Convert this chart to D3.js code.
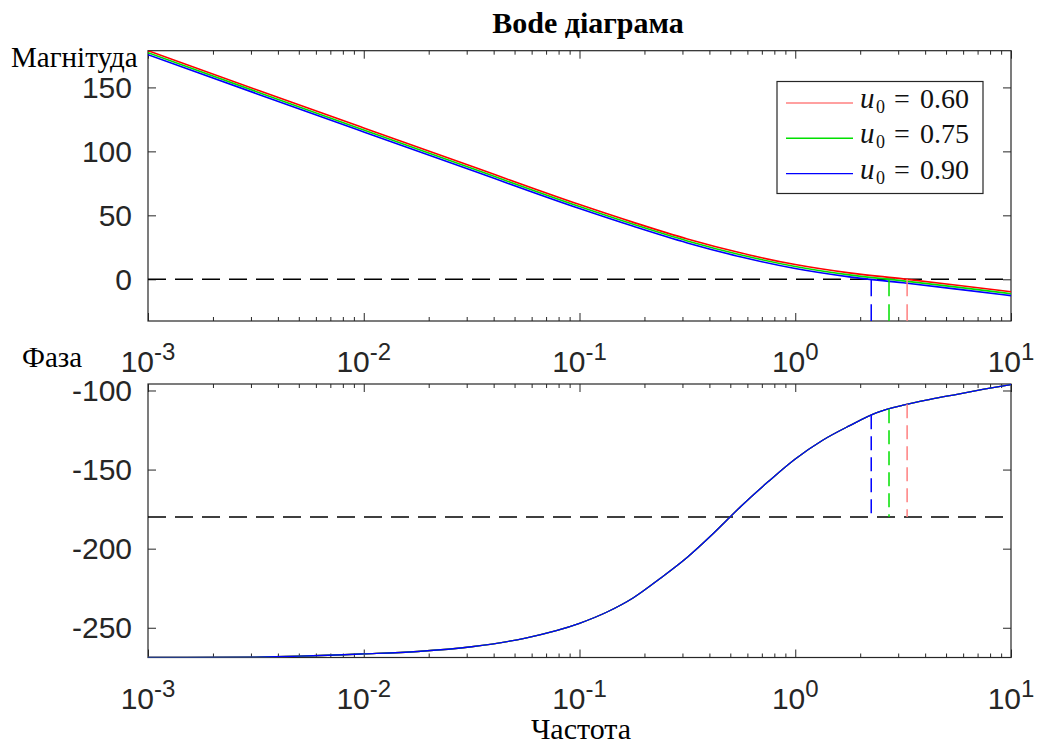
<!DOCTYPE html>
<html><head><meta charset="utf-8">
<script src="https://cdn.jsdelivr.net/npm/d3@7/dist/d3.min.js"></script>
<style>body{margin:0;background:#fff}svg{display:block}</style>
</head><body>
<svg id="c" width="1043" height="746"></svg>
<script>
// ---- data ----
const magFreqs = [0.001, 0.003162, 0.01, 0.03162, 0.1, 0.1778, 0.3162, 0.5623, 1, 1.778, 3.162, 5.623, 10];
const magRed   = [178.7, 148.4, 118.3, 88.3, 58.4, 44.5, 31.5, 20.5, 11.5, 5.0, 0.35, -4.6, -9.7];
const magGreen = [177.1, 146.9, 116.8, 86.8, 56.9, 43.0, 30.0, 19.0, 10.0, 3.45, -1.2, -6.15, -11.25];
const magBlue  = [175.6, 145.3, 115.2, 85.2, 55.3, 41.4, 28.4, 17.4, 8.4, 1.9, -2.75, -7.7, -12.8];
const phaseFreqs = [0.001, 0.003162, 0.01, 0.01778, 0.03162, 0.05623, 0.1, 0.1334, 0.1778, 0.2371, 0.3162, 0.4217, 0.5623, 0.7499, 1, 1.334, 1.778, 2.371, 3.162, 4.217, 5.623, 7.499, 10];
const phaseVals  = [-268.8, -268.5, -266.5, -265.0, -262.0, -256.5, -247.2, -240.2, -231.0, -218.7, -205.4, -189.8, -173.0, -157.6, -143.3, -131.6, -122.4, -114.2, -109.3, -105.6, -102.4, -99.2, -96.3];
const seriesLabels = ["0.60", "0.75", "0.90"];
const crossFreqs = [3.30, 2.72, 2.25];
const magTicks = [0, 50, 100, 150];
const phaseTicks = [-100, -150, -200, -250];
const decadeExps = [-3, -2, -1, 0, 1];
const colors = ["#ff0000", "#00e000", "#0000ff"];
const softColors = ["#ff8080", "#00e000", "#0000ff"];

const svg = d3.select("#c");
const L = 148, R = 1011;
const x = d3.scaleLog().domain([0.001, 10]).range([L, R]);
const top1 = 50.7, bot1 = 321, top2 = 384, bot2 = 657.5;
const yM = d3.scaleLinear().domain([-32.6, 178.7]).range([bot1, top1]);
const yP = d3.scaleLinear().domain([-268.8, -95.9]).range([bot2, top2]);
const axisCol = "#262626";
const sans = "'Liberation Sans', Arial, sans-serif";
const serif = "'Liberation Serif', 'Times New Roman', serif";

// minor ticks
const minor = [];
for (let e = -3; e < 1; e++) for (let m = 2; m <= 9; m++) minor.push(m * Math.pow(10, e));

function panel(y, top, bot, yticks, clipId) {
  const g = svg.append("g");
  g.append("clipPath").attr("id", clipId).append("rect")
    .attr("x", L).attr("y", top).attr("width", R - L).attr("height", bot - top);
  const majors = decadeExps.map(e => Math.pow(10, e));
  const xt = d3.axisBottom(x).tickValues(majors).tickSize(-8).tickFormat("");
  const xm = d3.axisBottom(x).tickValues(minor).tickSize(-4).tickFormat("");
  const xtT = d3.axisTop(x).tickValues(majors).tickSize(-8).tickFormat("");
  const xmT = d3.axisTop(x).tickValues(minor).tickSize(-4).tickFormat("");
  [[xt, bot], [xm, bot], [xtT, top], [xmT, top]].forEach(([a, yy]) => {
    const ag = g.append("g").attr("transform", `translate(0,${yy})`).call(a);
    ag.select(".domain").remove();
    ag.selectAll("line").attr("stroke", axisCol);
  });
  const yl = d3.axisLeft(y).tickValues(yticks).tickSize(-8).tickFormat("");
  const yr = d3.axisRight(y).tickValues(yticks).tickSize(-8).tickFormat("");
  [[yl, L], [yr, R]].forEach(([a, xx]) => {
    const ag = g.append("g").attr("transform", `translate(${xx},0)`).call(a);
    ag.select(".domain").remove();
    ag.selectAll("line").attr("stroke", axisCol);
  });
  g.append("rect").attr("x", L).attr("y", top).attr("width", R - L).attr("height", bot - top)
    .attr("fill", "none").attr("stroke", axisCol).attr("stroke-width", 1.2);
  g.selectAll(".yl").data(yticks).enter().append("text")
    .attr("x", 132).attr("y", d => y(d) + 10.5).attr("text-anchor", "end")
    .attr("font-family", sans).attr("font-size", 30).attr("fill", axisCol).text(d => d);
  decadeExps.forEach(e => {
    const t = g.append("text").attr("x", x(Math.pow(10, e))).attr("y", bot + 51)
      .attr("text-anchor", "middle").attr("font-family", sans).attr("fill", axisCol);
    t.append("tspan").attr("font-size", 30).text("10");
    t.append("tspan").attr("font-size", 24).attr("dy", -12).text(e);
  });
  return g;
}

const g1 = panel(yM, top1, bot1, magTicks, "clip1");
const g2 = panel(yP, top2, bot2, phaseTicks, "clip2");

const dash = "17,8";
g1.append("line").attr("x1", L).attr("x2", R).attr("y1", yM(0)).attr("y2", yM(0))
  .attr("stroke", "#000").attr("stroke-width", 1.5).attr("stroke-dasharray", "18,9");
g2.append("line").attr("x1", L).attr("x2", R).attr("y1", yP(-180)).attr("y2", yP(-180))
  .attr("stroke", "#000").attr("stroke-width", 1.5).attr("stroke-dasharray", "18,9");

const mags = [magRed, magGreen, magBlue];
const lineM = d3.line().x(d => x(d[0])).y(d => yM(d[1])).curve(d3.curveMonotoneX);
mags.forEach((m, i) => {
  g1.append("path").attr("d", lineM(magFreqs.map((f, j) => [f, m[j]])))
    .attr("fill", "none").attr("stroke", colors[i]).attr("stroke-width", 1.6)
    .attr("clip-path", "url(#clip1)");
});
const lineP = d3.line().x(d => x(d[0])).y(d => yP(d[1])).curve(d3.curveMonotoneX);
colors.forEach(c => {
  g2.append("path").attr("d", lineP(phaseFreqs.map((f, j) => [f, phaseVals[j]])))
    .attr("fill", "none").attr("stroke", c).attr("stroke-width", 1.3)
    .attr("clip-path", "url(#clip2)");
});
function phaseAt(f) {
  const lf = Math.log10(f);
  for (let j = 0; j < phaseFreqs.length - 1; j++) {
    const a = Math.log10(phaseFreqs[j]), b = Math.log10(phaseFreqs[j + 1]);
    if (lf >= a && lf <= b) return phaseVals[j] + (phaseVals[j + 1] - phaseVals[j]) * (lf - a) / (b - a);
  }
  return phaseVals[phaseVals.length - 1];
}
crossFreqs.forEach((f, i) => {
  g1.append("line").attr("x1", x(f)).attr("x2", x(f)).attr("y1", yM(0)).attr("y2", bot1)
    .attr("stroke", softColors[i]).attr("stroke-width", 1.5).attr("stroke-dasharray", dash);
  g2.append("line").attr("x1", x(f)).attr("x2", x(f)).attr("y1", yP(phaseAt(f))).attr("y2", yP(-180))
    .attr("stroke", softColors[i]).attr("stroke-width", 1.5).attr("stroke-dasharray", "14,7");
});

// legend
const lg = svg.append("g");
lg.append("rect").attr("x", 777).attr("y", 81.5).attr("width", 206).attr("height", 112)
  .attr("fill", "#fff").attr("stroke", axisCol).attr("stroke-width", 1.2);
seriesLabels.forEach((lab, i) => {
  const yy = 103 + i * 35.3;
  lg.append("line").attr("x1", 786).attr("x2", 853).attr("y1", yy).attr("y2", yy)
    .attr("stroke", softColors[i]).attr("stroke-width", 1.4);
  const base = yy + 5;
  lg.append("text").attr("x", 860).attr("y", base).attr("font-family", serif).attr("font-style", "italic")
    .attr("font-size", 29).attr("fill", "#111").text("u");
  lg.append("text").attr("x", 876).attr("y", base + 5).attr("font-family", serif)
    .attr("font-size", 18).attr("fill", "#111").text("0");
  lg.append("text").attr("x", 894).attr("y", base).attr("font-family", serif)
    .attr("font-size", 28).attr("fill", "#111").text("=");
  lg.append("text").attr("x", 920).attr("y", base).attr("font-family", serif)
    .attr("font-size", 28).attr("fill", "#111").text(lab);
});

svg.append("text").attr("x", 588).attr("y", 33).attr("text-anchor", "middle")
  .attr("font-family", serif).attr("font-weight", "bold").attr("font-size", 30).text("Bode діаграма");
svg.append("text").attr("x", 11).attr("y", 67).attr("font-family", serif).attr("font-size", 29).text("Магнітуда");
svg.append("text").attr("x", 22).attr("y", 367).attr("font-family", serif).attr("font-size", 29).text("Фаза");
svg.append("text").attr("x", 581).attr("y", 739).attr("text-anchor", "middle")
  .attr("font-family", serif).attr("font-size", 30).text("Частота");
</script>
</body></html>
